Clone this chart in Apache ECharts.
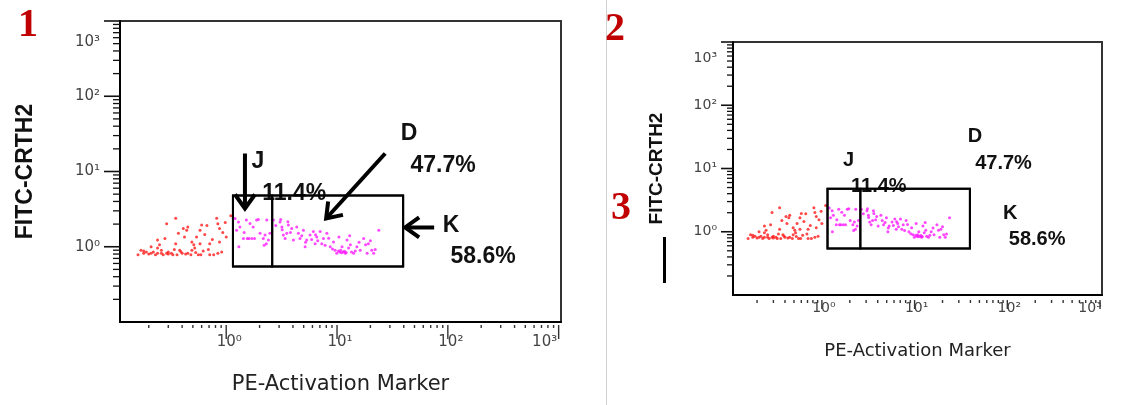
<!DOCTYPE html>
<html><head><meta charset="utf-8">
<script src="https://cdn.jsdelivr.net/npm/echarts@6/dist/echarts.min.js"></script>
<style>html,body{margin:0;padding:0;background:#fff}#c{width:1130px;height:405px}</style>
</head><body><div id="c"></div>
<script>
// ---------------- data ----------------
const xTitle = 'PE-Activation Marker';
const yTitle = 'FITC-CRTH2';
const panelLabels = ['1', '2', '3'];
const xMin = 0.11, xMax = 1050, yMin = 0.1, yMax = 1000;
const decadeValues = [1, 10, 100, 1000];
const decadeLabels = ['10⁰', '10¹', '10²', '10³'];

// ungated events (red)
const redX = [0.16,0.17,0.18,0.19,0.21,0.21,0.22,0.23,0.24,0.24,
              0.24,0.25,0.26,0.27,0.28,0.29,0.29,0.30,0.32,0.33,
              0.35,0.35,0.36,0.37,0.38,0.40,0.41,0.42,0.44,0.45,
              0.45,0.48,0.49,0.51,0.52,0.54,0.56,0.58,0.58,0.59,
              0.67,0.71,0.71,0.77,0.82,0.84,0.84,0.87,0.87,0.91,
              1.00,1.10,
              0.18,0.20,0.26,0.30,0.34,0.39,0.43,0.49,0.53,0.62,
              0.69,0.75,0.93,0.98,0.64,0.60];
const redY = [0.78,0.90,0.82,0.85,1.00,0.82,0.85,0.78,0.82,1.23,
              0.96,1.06,0.82,0.78,1.29,2.02,0.82,0.85,0.82,0.78,
              1.10,2.40,0.78,1.51,0.90,0.82,1.75,1.35,1.66,1.83,
              0.82,0.78,1.16,1.06,0.96,1.35,0.78,1.66,1.10,0.78,
              1.92,1.10,0.78,0.78,2.40,0.82,2.02,1.75,1.16,0.85,
              1.35,2.59,
              0.88,0.80,0.90,0.80,0.92,0.86,0.80,0.90,0.84,0.88,
              0.92,1.25,1.55,2.10,1.45,1.95];

// gated events (magenta)
const magX = [1.20,1.29,1.24,1.33,1.43,1.52,1.64,1.70,1.75,1.88,
              2.02,2.16,2.24,2.32,2.40,2.48,1.55,1.60,1.80,1.30,
              2.20,1.45,1.95,
              2.67,3.06,3.18,3.28,3.40,3.52,3.64,3.90,4.04,4.33,
              4.48,4.63,4.97,5.15,5.32,5.71,6.12,6.34,6.57,7.04,
              7.28,7.54,8.10,8.68,9.29,9.61,9.94,10.4,10.8,11.1,
              11.4,11.9,12.3,12.7,13.2,14.1,15.1,16.2,17.4,18.7,
              19.2,20.6,21.4,23.8,
              10.6,11.0,11.7,12.1,10.3,13.5,14.6,9.1,7.8,6.7,
              5.9,4.8,3.8,3.2,2.8,3.1,3.6,5.2,6.4,8.4,
              15.8,18.1,20.0,22.1,13.0,2.3];
const magY = [2.37,2.14,1.66,1.83,1.29,2.26,2.04,1.29,1.83,2.26,
              1.51,1.29,1.43,2.26,1.23,1.51,1.29,1.29,1.29,1.00,
              1.05,1.55,2.30,
              2.26,2.14,1.83,1.43,1.29,1.51,1.95,1.75,1.23,1.83,
              1.51,1.29,1.66,1.00,1.23,1.43,1.59,1.10,1.35,1.59,
              1.10,1.29,1.51,1.00,1.16,0.90,0.82,1.35,0.90,1.00,
              0.85,0.82,1.23,0.96,1.06,0.82,1.00,0.90,1.29,0.82,
              1.10,0.90,0.82,1.66,
              0.85,0.83,0.87,0.84,0.88,0.85,0.88,0.93,1.05,1.20,
              1.25,1.40,1.55,1.68,1.92,2.30,2.15,1.15,1.44,1.30,
              1.15,1.06,1.20,0.92,1.40,1.10];

// gates
const gateNames = ['J', 'D', 'K'];
const gatePercents = ['11.4%', '47.7%', '58.6%'];
const gateXMin = [1.15, 2.6, 1.15];
const gateXMax = [2.6, 39.5, 39.5];
const gateYMin = [0.545, 0.545, 0.545];
const gateYMax = [4.8, 4.8, 4.8];

// ---------------- layout ----------------
const panels = [
  {left:120, top:21, width:441, height:301, s:1, yMajor:16, yMinor:7, yLabelGap:20, yTopShift:21,
   xDot:[3,6], xMajor:[3,17], xLabelOff:20, xLastShift:-17, xLabelDx:3, tickFont:15,
   xNameGap:52, yNameGap:83, xNameSize:21, yNameSize:23, annoFont:23, arrows:true},
  {left:733, top:42, width:369, height:253, s:0.84, yMajor:12, yMinor:6, yLabelGap:16, yTopShift:16,
   xDot:[5,8], xMajor:[5,14], xLabelOff:13, xLastShift:-12, xLabelDx:2, tickFont:14,
   xNameGap:47, yNameGap:67, xNameSize:18, yNameSize:19, annoFont:20, arrows:false}
];
// annotation offsets (panel-1 pixels, scaled by s) relative to the gate's own edges
const gateLayout = {
  J: {label:['left',25,-34], pct:['right',22,-2], arrow:[['left',12,-42],['left',12,13]]},
  D: {label:['right',6,-62], pct:['right',40,-30], arrow:[['right',-18,-42],['right',-77,23]]},
  K: {label:['right',48,30], pct:['right',80,61], arrow:[['right',31,32],['right',2,32]]}
};

function txt(text, x, y, font, fill, align, valign) {
  return {type:'text', style:{text:text, x:x, y:y, font:font, fill:fill,
    align:align, textAlign:align, verticalAlign:valign, textVerticalAlign:valign}};
}
function ln(x1, y1, x2, y2, w, c) {
  return {type:'line', shape:{x1:x1, y1:y1, x2:x2, y2:y2}, style:{stroke:c || '#111', lineWidth:w}};
}

function makeDecor(P) {
  return function (params, api) {
    const cs = params.coordSys;
    const left = cs.x, bottom = cs.y + cs.height;
    const ch = [];
    const tf = P.tickFont + 'px "DejaVu Sans", sans-serif';
    for (let n = -1; n <= 2; n++) {
      for (let k = 2; k <= 9; k++) {
        const v = k * Math.pow(10, n);
        const py = api.coord([1, v])[1];
        ch.push(ln(left - P.yMinor, py, left, py, 1.3));
        const px = api.coord([v, 1])[0];
        ch.push(ln(px, bottom + P.xDot[0], px, bottom + P.xDot[1], 1.4, '#333'));
      }
    }
    decadeValues.forEach(function (v, i) {
      const py = api.coord([1, v])[1];
      ch.push(ln(left - P.yMajor, py, left, py, 1.6));
      const isTop = i === decadeValues.length - 1;
      ch.push(txt(decadeLabels[i], left - P.yLabelGap, py + (isTop ? P.yTopShift : 0), tf, '#444', 'right', 'middle'));
      const px = api.coord([v, 1])[0];
      ch.push(ln(px, bottom + P.xMajor[0], px, bottom + P.xMajor[1], 1.4, '#333'));
      ch.push(txt(decadeLabels[i], px + P.xLabelDx + (isTop ? P.xLastShift : 0), bottom + P.xLabelOff, tf, '#444', 'center', 'middle'));
    });
    return {type:'group', children:ch};
  };
}

function makeGates(P) {
  return function (params, api) {
    const i = params.dataIndex;
    const lb = api.coord([api.value(0), api.value(1)]);
    const rt = api.coord([api.value(2), api.value(3)]);
    const L = lb[0], B = lb[1], R = rt[0], T = rt[1];
    const s = P.s;
    const lay = gateLayout[gateNames[i]];
    const ax = function (a) { return a === 'left' ? L : R; };
    const pt = function (d) { return [ax(d[0]) + d[1] * s, T + d[2] * s]; };
    const font = 'bold ' + P.annoFont + 'px "Liberation Sans", Arial, sans-serif';
    const ch = [{type:'rect', shape:{x:L, y:T, width:R - L, height:B - T},
                 style:{fill:'none', stroke:'#000', lineWidth:2}}];
    const lp = pt(lay.label), pp = pt(lay.pct);
    ch.push(txt(gateNames[i], lp[0], lp[1], font, '#111', 'center', 'middle'));
    ch.push(txt(gatePercents[i], pp[0], pp[1], font, '#111', 'center', 'middle'));
    if (P.arrows) {
      const a = pt(lay.arrow[0]), b = pt(lay.arrow[1]);
      const dx = b[0] - a[0], dy = b[1] - a[1], len = Math.sqrt(dx * dx + dy * dy);
      const ux = dx / len, uy = dy / len, nx = -uy, ny = ux;
      const hl = 14, hw = 10;
      ch.push({type:'polyline', shape:{points:[a, [b[0] - ux * 2, b[1] - uy * 2]]},
               style:{stroke:'#000', lineWidth:4, fill:'none'}});
      ch.push({type:'polyline', shape:{points:[
        [b[0] - ux * hl + nx * hw, b[1] - uy * hl + ny * hw], b,
        [b[0] - ux * hl - nx * hw, b[1] - uy * hl - ny * hw]]},
        style:{stroke:'#000', lineWidth:4, fill:'none', lineJoin:'miter'}});
    }
    return {type:'group', children:ch};
  };
}

const redData = redX.map(function (x, i) { return [x, redY[i]]; });
const magData = magX.map(function (x, i) { return [x, magY[i]]; });
const gateData = gateNames.map(function (n, i) { return [gateXMin[i], gateYMin[i], gateXMax[i], gateYMax[i]]; });

const series = [];
panels.forEach(function (P, pi) {
  series.push({type:'scatter', xAxisIndex:pi, yAxisIndex:pi, data:redData, symbol:'circle', symbolSize:3,
    itemStyle:{color:'#ff1a1a'}, silent:true, z:2});
  series.push({type:'scatter', xAxisIndex:pi, yAxisIndex:pi, data:magData, symbol:'circle', symbolSize:3,
    itemStyle:{color:'#ff1aff'}, silent:true, z:2});
  series.push({type:'custom', xAxisIndex:pi, yAxisIndex:pi, data:gateData, encode:{x:[0,2], y:[1,3]},
    renderItem:makeGates(P), clip:false, silent:true, z:5});
  series.push({type:'custom', xAxisIndex:pi, yAxisIndex:pi, data:[[1,1]], encode:{x:0, y:1},
    renderItem:makeDecor(P), clip:false, silent:true, z:6});
});

const option = {
  animation:false,
  backgroundColor:'#ffffff',
  grid: panels.map(function (P) {
    return {left:P.left, top:P.top, width:P.width, height:P.height, show:true,
      borderColor:'#333', borderWidth:2, backgroundColor:'transparent', containLabel:false, outerBoundsMode:'none'};
  }),
  xAxis: panels.map(function (P, i) {
    return {type:'log', logBase:10, gridIndex:i, min:xMin, max:xMax,
      axisLine:{show:true, lineStyle:{color:'#000', width:2}}, axisTick:{show:false}, axisLabel:{show:false},
      splitLine:{show:false}, minorTick:{show:false}, minorSplitLine:{show:false},
      name:xTitle, nameLocation:'middle', nameGap:P.xNameGap,
      nameTextStyle:{fontFamily:'"DejaVu Sans", sans-serif', fontSize:P.xNameSize, color:'#222'}};
  }),
  yAxis: panels.map(function (P, i) {
    return {type:'log', logBase:10, gridIndex:i, min:yMin, max:yMax,
      axisLine:{show:true, lineStyle:{color:'#000', width:2}}, axisTick:{show:false}, axisLabel:{show:false},
      splitLine:{show:false}, minorTick:{show:false}, minorSplitLine:{show:false},
      name:yTitle, nameLocation:'middle', nameGap:P.yNameGap,
      nameTextStyle:{fontFamily:'"Liberation Sans", Arial, sans-serif', fontWeight:'bold', fontSize:P.yNameSize, color:'#111'}};
  }),
  series: series,
  graphic: [
    {type:'line', shape:{x1:606.5, y1:0, x2:606.5, y2:405}, style:{stroke:'#d0d0d0', lineWidth:1}, silent:true},
    {type:'text', x:28, y:26, style:{text:panelLabels[0], font:'bold 40px "Liberation Serif", serif', fill:'#c00000',
      align:'center', textAlign:'center', verticalAlign:'middle', textVerticalAlign:'middle'}},
    {type:'text', x:615, y:30, style:{text:panelLabels[1], font:'bold 40px "Liberation Serif", serif', fill:'#c00000',
      align:'center', textAlign:'center', verticalAlign:'middle', textVerticalAlign:'middle'}},
    {type:'text', x:621, y:209, style:{text:panelLabels[2], font:'bold 40px "Liberation Serif", serif', fill:'#c00000',
      align:'center', textAlign:'center', verticalAlign:'middle', textVerticalAlign:'middle'}},
    {type:'rect', shape:{x:663, y:237, width:3, height:46}, style:{fill:'#000'}, silent:true}
  ]
};

const chart = echarts.init(document.getElementById('c'), null, {renderer:'canvas'});
chart.setOption(option);
</script>
</body></html>
